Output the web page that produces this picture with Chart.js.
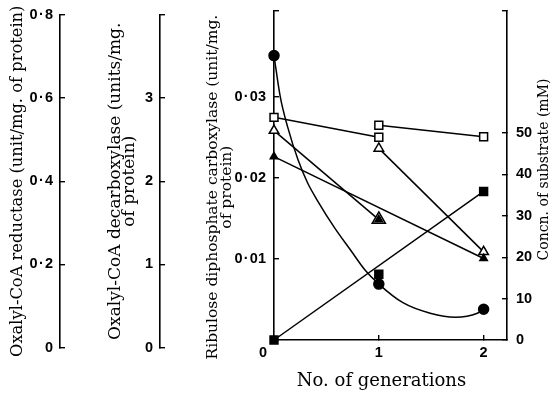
<!DOCTYPE html>
<html>
<head>
<meta charset="utf-8">
<script src="https://cdn.jsdelivr.net/npm/chart.js@4/dist/chart.umd.min.js"></script>
<style>
  html, body { margin: 0; padding: 0; background: #fff; }
  #wrap { position: relative; width: 551px; height: 398px; overflow: hidden; }
  #leftAxes { position: absolute; left: 0; top: 0; }
  #mainChart { position: absolute; left: 160px; top: 0; }
</style>
</head>
<body>
<div id="wrap">
  <canvas id="leftAxes" width="165" height="398"></canvas>
  <canvas id="mainChart" width="391" height="398"></canvas>
</div>
<script>
// x axis
var generations = [0, 1, 2];
var genTicks = [0, 1, 2];

// tick values of the four y axes
var reductaseTicks = [0, 0.2, 0.4, 0.6, 0.8];
var decarboxylaseTicks = [0, 1, 2, 3];
var carboxylaseTicks = [0, 0.01, 0.02, 0.03];
var substrateTicks = [0, 10, 20, 30, 40, 50];

// ribulose diphosphate carboxylase (filled circles), left axis
var carboxylase = [0.0351, 0.0069, 0.0038];
// the smooth curve drawn through the circles
var curveGen = [0, 0.06, 0.13, 0.23, 0.32, 0.41, 0.58, 0.73, 0.87, 1, 1.23, 1.49, 1.73, 1.94, 2];
var curveCarb = [0.0351, 0.0300, 0.0263, 0.0222, 0.0194, 0.0173, 0.0138, 0.0111, 0.0086, 0.0069, 0.0046, 0.0033, 0.0028, 0.0033, 0.0038];

// substrate concentrations (mM), right axis
// open symbols: one segment per generation (gen 0->1, gen 1->2)
var openSquares1 = [53.8, 49.0];
var openSquares2 = [51.9, 49.1];
var openTriangles1 = [50.6, 29.1];
var openTriangles2 = [46.3, 21.3];
// filled symbols, with a straight line from first to last point
var filledTriangles = [44.3, 29.1, 19.7];
var filledSquares = [0, 15.9, 35.9];

var tickFont = { family: 'Liberation Sans', size: 14.5, weight: 'bold' };
var titleFont = { family: 'DejaVu Serif', size: 15.5, lineHeight: 0.92 };

function pts(xs, ys) {
  return ys.map(function (y, i) { return { x: xs[i], y: y }; });
}
function setTicks(values, addMax) {
  return function (scale) {
    var v = addMax ? values.concat([scale.max]) : values;
    scale.ticks = v.map(function (t) { return { value: t }; });
  };
}
function dotLabel(digits, hideZero, hideLast) {
  return function (value, index, ticks) {
    if (hideLast && index === ticks.length - 1) return '';
    if (value === 0) return hideZero ? '' : '0';
    return value.toFixed(digits).replace('.', '\u200a\u00b7\u200a');
  };
}
function axisStyle(pad) {
  return {
    grid: { display: true, drawOnChartArea: false, drawTicks: true, tickLength: -5, color: '#000', lineWidth: 1.4 },
    border: { display: true, color: '#000', width: 1.6 },
    ticks: { color: '#000', font: tickFont, padding: pad }
  };
}
function yAxis(opts) {
  var s = axisStyle(opts.pad);
  s.type = 'linear';
  s.position = opts.position;
  s.min = opts.min;
  s.max = opts.max;
  if (opts.weight) s.weight = opts.weight;
  s.afterBuildTicks = setTicks(opts.ticks, opts.addMax);
  s.ticks.callback = opts.callback;
  s.afterFit = function (scale) {
    scale.width = opts.width;
    scale.paddingTop = 0;
    scale.paddingBottom = 0;
  };
  if (opts.title) {
    s.title = { display: true, text: opts.title, color: '#000', font: opts.titleFont || titleFont, padding: { top: opts.titlePad, bottom: 0 } };
  }
  return s;
}

// far-left axes (no data drawn on them)
new Chart(document.getElementById('leftAxes'), {
  type: 'scatter',
  data: { datasets: [] },
  options: {
    responsive: false,
    animation: false,
    layout: { padding: { top: 15, bottom: 50.5, left: 0, right: 0 } },
    plugins: { legend: { display: false }, tooltip: { enabled: false } },
    scales: {
      x: { display: false },
      red: yAxis({
        position: 'left', weight: 2, min: 0, max: 0.8, ticks: reductaseTicks, addMax: false,
        callback: dotLabel(1, false, false), width: 60, pad: 12,
        title: 'Oxalyl-CoA reductase (unit/mg. of protein)', titlePad: 9.5,
        titleFont: { family: 'DejaVu Serif', size: 16.3, lineHeight: 1 }
      }),
      dec: yAxis({
        position: 'left', weight: 1, min: 0, max: 4.0, ticks: decarboxylaseTicks, addMax: true,
        callback: dotLabel(0, false, true), width: 100, pad: 12,
        title: ['Oxalyl-CoA decarboxylase (units/mg.', 'of protein)'], titlePad: 48.5,
        titleFont: { family: 'DejaVu Serif', size: 17, lineHeight: 0.84 }
      })
    }
  }
});

var substrateTitle = {
  id: 'substrateTitle',
  afterDraw: function (chart) {
    var s = chart.scales.y2;
    var ctx = chart.ctx;
    ctx.save();
    ctx.font = '14px "DejaVu Serif"';
    ctx.fillStyle = '#000';
    ctx.textAlign = 'center';
    ctx.textBaseline = 'middle';
    ctx.translate(s.right - 7, (s.top + s.bottom) / 2 - 6);
    ctx.rotate(-Math.PI / 2);
    ctx.fillText('Concn. of substrate (mM)', 0, 0);
    ctx.restore();
  }
};

function markerSet(data, style, radius, filled, line, axis) {
  return {
    data: data,
    yAxisID: axis,
    showLine: line,
    borderColor: '#000',
    borderWidth: 1.5,
    pointStyle: style,
    pointRadius: radius,
    pointBorderWidth: 1.5,
    pointBorderColor: '#000',
    pointBackgroundColor: filled ? '#000' : '#fff',
    clip: false
  };
}
function lineOnly(data, axis, smooth) {
  return {
    data: data,
    yAxisID: axis,
    showLine: true,
    borderColor: '#000',
    borderWidth: 1.5,
    pointRadius: 0,
    cubicInterpolationMode: smooth ? 'monotone' : 'default',
    tension: 0,
    clip: false
  };
}

var last = generations.length - 1;
new Chart(document.getElementById('mainChart'), {
  type: 'scatter',
  data: {
    datasets: [
      markerSet(pts(generations, filledTriangles), 'triangle', 4.3, true, false, 'y2'),
      markerSet(pts([0, 1], openTriangles1), 'triangle', [5.5, 7.6], false, true, 'y2'),
      markerSet(pts([1, 2], openTriangles2), 'triangle', 5.5, false, true, 'y2'),
      markerSet(pts([0, 1], openSquares1), 'rect', 5.6, false, true, 'y2'),
      markerSet(pts([1, 2], openSquares2), 'rect', 5.6, false, true, 'y2'),
      markerSet(pts(generations, filledSquares), 'rect', 5.6, true, false, 'y2'),
      markerSet(pts(generations, carboxylase), 'circle', 5, true, false, 'y'),
      lineOnly(pts([generations[0], generations[last]], [filledSquares[0], filledSquares[last]]), 'y2'),
      lineOnly(pts([generations[0], generations[last]], [filledTriangles[0], filledTriangles[last]]), 'y2'),
      lineOnly(pts(curveGen, curveCarb), 'y', true)
    ]
  },
  options: {
    responsive: false,
    animation: false,
    layout: { padding: { top: 11, bottom: 0, left: 0, right: 0 } },
    plugins: { legend: { display: false }, tooltip: { enabled: false } },
    scales: {
      x: (function () {
        var s = axisStyle(9);
        s.type = 'linear';
        s.position = 'bottom';
        s.min = 0;
        s.max = 2.223;
        s.afterBuildTicks = setTicks(genTicks, false);
        s.ticks.callback = function (v) { return v === 0 ? '0\u2003\u2002' : String(v); };
        s.ticks.maxRotation = 0;
        s.afterFit = function (scale) { scale.height = 58; };
        s.title = { display: true, text: 'No. of generations\u2002\u2002', color: '#000',
          font: { family: 'DejaVu Serif', size: 18 }, padding: { top: 0, bottom: 6 } };
        return s;
      })(),
      y: yAxis({
        position: 'left', min: 0, max: 0.0406, ticks: carboxylaseTicks, addMax: true,
        callback: dotLabel(2, true, true), width: 114, pad: 13,
        title: ['Ribulose diphosphate carboxylase (unit/mg.\u2002\u2002\u2002', 'of protein)\u2002\u2002\u2002'], titlePad: 45.5
      }),
      y2: yAxis({
        position: 'right', min: 0, max: 79.5, ticks: substrateTicks, addMax: true,
        callback: dotLabel(0, false, true), width: 44, pad: 14
      })
    }
  },
  plugins: [substrateTitle]
});
</script>
</body>
</html>
